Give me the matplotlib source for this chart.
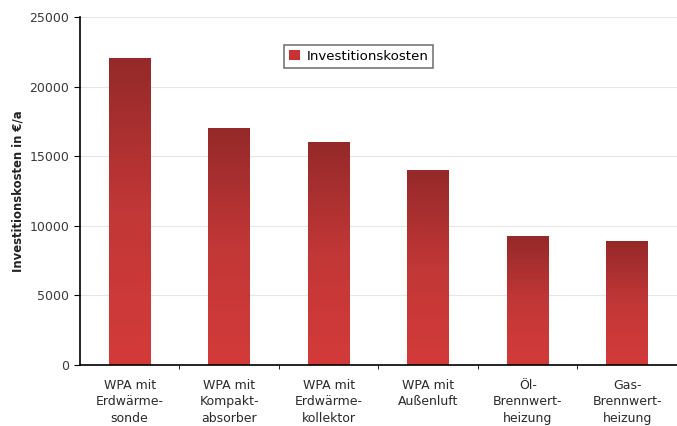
import numpy as np
import matplotlib
matplotlib.use("Agg")
from matplotlib import pyplot as plt
from matplotlib.colors import LinearSegmentedColormap
from matplotlib.patches import Patch

plt.rcParams['font.family'] = ['DejaVu Sans']

categories = ['WPA mit\nErdwärme-\nsonde', 'WPA mit\nKompakt-\nabsorber',
              'WPA mit\nErdwärme-\nkollektor', 'WPA mit\nAußenluft',
              'Öl-\nBrennwert-\nheizung', 'Gas-\nBrennwert-\nheizung']
kosten = [22000, 17000, 16000, 14000, 9200, 8900]
y_ticks = [0, 5000, 10000, 15000, 20000, 25000]

fig = plt.figure(figsize=(6.77, 4.26), dpi=100)
ax = fig.add_axes([0.118, 0.143, 0.882, 0.817])

x = np.arange(len(categories))
width = 0.42
bars = ax.bar(x, kosten, width, color='none', edgecolor='none', zorder=2)

# vertical red gradient, dark at the top, lighter at the bottom
cmap = LinearSegmentedColormap.from_list('rot', ['#d33b39', '#c23737', '#952929'])
grad = np.linspace(0, 1, 256).reshape(-1, 1)
for b in bars:
    x0, w, h = b.get_x(), b.get_width(), b.get_height()
    ax.imshow(grad, cmap=cmap, origin='lower', aspect='auto',
              extent=[x0, x0 + w, 0, h], zorder=2, interpolation='bicubic')

ax.set_xlim(-0.5, len(categories) - 0.5)
ax.set_ylim(0, 25000)
ax.set_yticks(y_ticks)
ax.set_xticks(x)
ax.set_xticklabels(categories, fontsize=9, color='#2a2a2a', linespacing=1.35)
ax.set_xticks(x[:-1] + 0.5, minor=True)
ax.tick_params(axis='x', which='major', length=0, pad=10)
ax.tick_params(axis='x', which='minor', length=3, direction='out')
ax.tick_params(axis='y', length=4, direction='out', labelsize=9, labelcolor='#3a3a3a')

ax.yaxis.grid(True, color='#e6e6e6', linewidth=0.8, zorder=0)
ax.set_axisbelow(True)
for s in ['top', 'right']:
    ax.spines[s].set_visible(False)
ax.spines['left'].set_linewidth(1.2)
ax.spines['bottom'].set_linewidth(1.2)

ax.set_ylabel('Investitionskosten in €/a', fontsize=8.4, fontweight='bold',
              labelpad=4, color='#222222')

leg = ax.legend([Patch(facecolor='#c83232')], ['Investitionskosten'],
                loc='upper left', bbox_to_anchor=(0.33, 0.94), fontsize=9.6,
                fancybox=False, framealpha=1, edgecolor='#777777',
                handlelength=0.8, handleheight=0.8, borderpad=0.4,
                handletextpad=0.5)
leg.get_frame().set_linewidth(1.2)

fig.savefig('out.png', dpi=100)
